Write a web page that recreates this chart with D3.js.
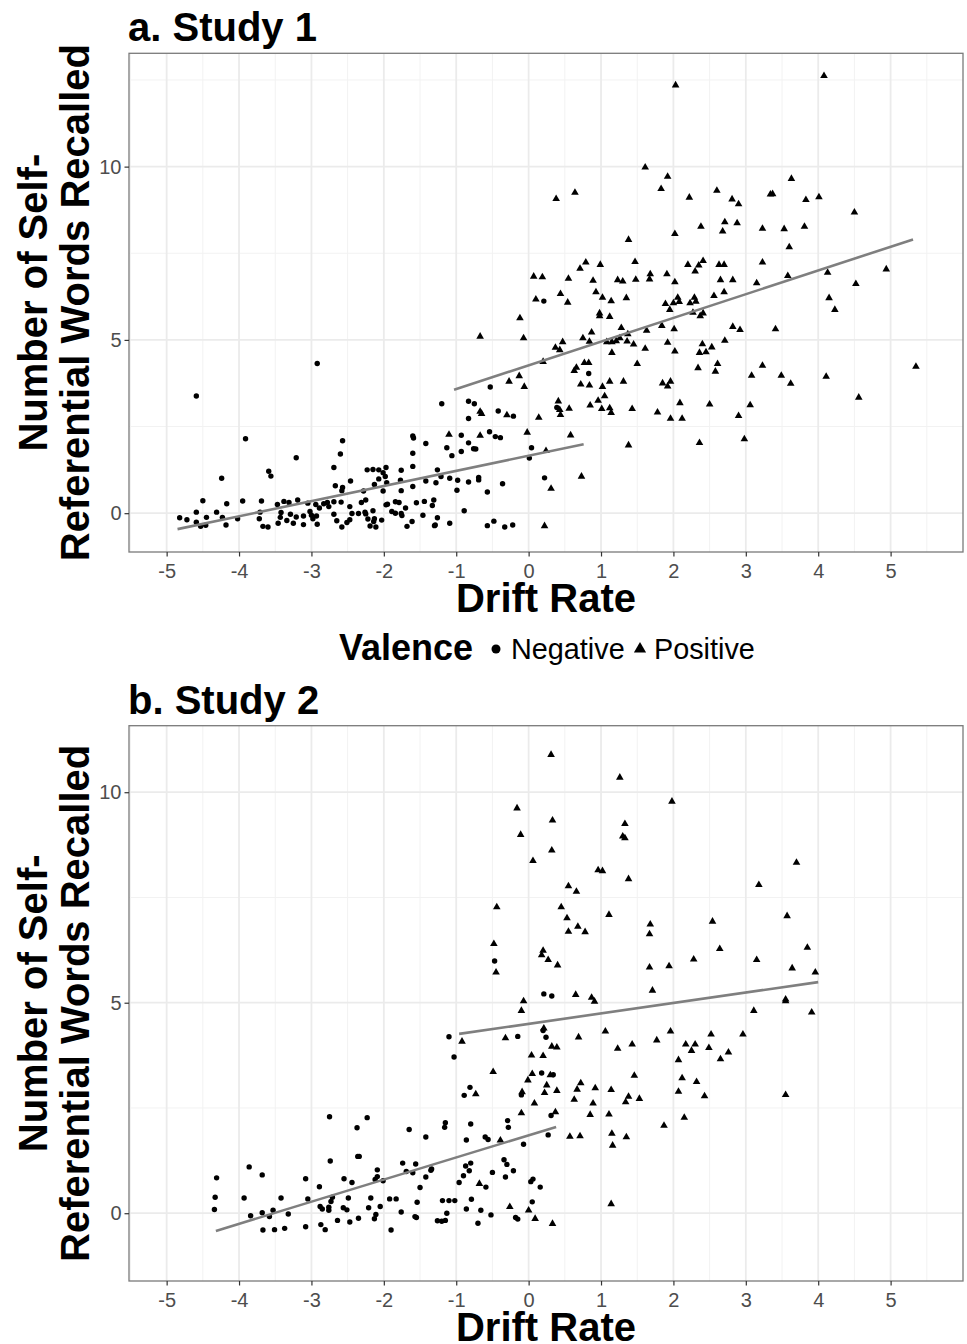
<!DOCTYPE html>
<html>
<head>
<meta charset="utf-8">
<script src="https://cdnjs.cloudflare.com/ajax/libs/d3/7.8.5/d3.min.js"></script>
<style>
  body { margin: 0; background: #fff; }
  svg { display: block; font-family: 'Liberation Sans', Arial, sans-serif; }
</style>
</head>
<body>
<svg id="chart" width="967" height="1344"></svg>
<script>
// Drift rate vs. self-referential words recalled, two studies

// Axis ticks
const xTicks = [-5, -4, -3, -2, -1, 0, 1, 2, 3, 4, 5]
const xMinor = [-5.5, -4.5, -3.5, -2.5, -1.5, -0.5, 0.5, 1.5, 2.5, 3.5, 4.5, 5.5]
const yTicks = [0, 5, 10]
const yMinorA = [2.5, 7.5, 12.5]
const yMinorB = [2.5, 7.5]

// Study 1, [drift rate, words recalled]
const study1Negative = [
  [-4.59, 3.38], [-2.92, 4.32], [-3.91, 2.15], [-4.24, 1.01], [-3.59, 1.21], [-3.56, 1.07], [-3.21, 1.60],
  [-2.57, 2.09], [-2.60, 1.71], [-2.69, 1.32], [-2.67, 0.79], [-2.57, 0.74], [-2.58, 0.65], [-2.46, 0.93],
  [-1.60, 2.23], [-1.59, 2.17], [-1.60, 1.73], [-1.60, 1.35], [-1.42, 2.01], [-1.20, 3.16], [-0.83, 3.23],
  [-0.75, 3.16], [-0.83, 2.73], [-0.53, 3.64], [-0.42, 2.95], [-0.21, 2.80], [-0.93, 2.25], [-0.83, 2.03],
  [-0.93, 1.78], [-0.76, 1.86], [-0.73, 1.85], [-1.13, 1.89], [-1.06, 1.66], [-0.54, 2.35], [-0.46, 2.21],
  [-0.39, 2.18], [0.04, 1.89], [0.01, 1.59], [-1.26, 1.25], [-1.21, 1.06], [-1.09, 1.01], [-0.98, 0.95],
  [-0.83, 0.90], [-0.69, 1.03], [-0.69, 0.96], [-0.57, 0.61], [-0.36, 0.85], [-0.99, 0.66], [-0.89, 0.07],
  [-0.57, -0.36], [-0.48, -0.23], [-0.33, -0.40], [-0.22, -0.34], [-1.09, -0.29], [-1.30, -0.36], [-1.29, -0.34],
  [-1.26, -0.13], [-1.46, -0.06], [-1.44, 0.34], [-1.55, 0.30], [-1.31, 0.38], [-1.33, 0.22], [-1.28, 0.88],
  [-1.42, 0.93], [-1.60, 0.77], [-1.76, 1.24], [-1.77, 0.95], [-1.76, 0.65], [-1.79, 0.31], [-1.84, 0.33],
  [-1.70, 0.15], [-1.76, -0.01], [-1.75, -0.07], [-1.61, -0.24], [-1.68, -0.38], [-1.84, 0.00], [-1.89, 0.05],
  [-1.95, 0.26], [-1.97, 0.24], [-2.03, -0.20], [-2.13, -0.16], [-2.14, -0.24], [-2.11, -0.40], [-2.19, -0.37],
  [-2.22, -0.17], [-2.15, 0.07], [-2.25, -0.02], [-2.26, 0.03], [-2.35, -0.01], [-2.31, 0.31], [-2.25, 0.38],
  [-2.28, 0.64], [-2.15, 1.26], [-2.23, 1.25], [-2.07, 1.25], [-2.07, 0.99], [-2.13, 0.83], [-2.01, 0.64],
  [-1.97, 1.32], [-2.01, 1.17], [-1.98, 1.06], [-1.96, 0.88], [-2.47, 0.19], [-2.44, -0.01], [-2.47, -0.19],
  [-2.51, -0.27], [-2.58, -0.40], [-2.65, -0.22], [-2.69, -0.03], [-2.59, 0.32], [-2.69, 0.33], [-2.78, 0.31],
  [-2.76, 0.19], [-2.83, 0.27], [-2.89, 0.15], [-2.94, 0.25], [-2.93, -0.08], [-2.92, -0.32], [-2.98, -0.16],
  [-3.00, -0.06], [-3.02, 0.05], [-3.05, 0.29], [-3.11, -0.08], [-3.11, -0.33], [-3.19, 0.38], [-3.21, -0.11],
  [-3.25, -0.29], [-3.29, -0.03], [-3.31, 0.31], [-3.34, -0.21], [-3.38, 0.34], [-3.42, 0.02], [-3.43, -0.12],
  [-3.46, -0.29], [-3.47, 0.25], [-3.60, -0.40], [-3.67, -0.38], [-3.69, 0.35], [-3.72, -0.16], [-3.71, 0.03],
  [-3.95, 0.35], [-4.02, -0.16], [-4.17, 0.27], [-4.18, -0.34], [-4.23, -0.12], [-4.31, 0.03], [-4.45, -0.12],
  [-4.46, -0.35], [-4.50, 0.36], [-4.53, -0.38], [-4.59, -0.26], [-4.59, 0.03], [-4.72, -0.19], [-4.82, -0.13],
  [0.83, 4.03], [0.39, 3.05], [0.22, 1.02], [0.21, 6.12]
]

const study1Positive = [
  [0.07, 6.83], [0.10, 6.17],
  [-0.12, 5.63], [-0.67, 5.10], [-0.07, 5.05], [-0.27, 3.80], [-0.13, 3.96], [-0.06, 3.65], [-0.67, 2.93],
  [-0.65, 2.87], [-0.30, 2.83], [0.14, 2.76], [-1.10, 2.27], [-0.67, 2.24], [-0.02, 2.33],
  [4.08, 12.62], [2.03, 12.35], [1.61, 9.98], [1.92, 9.71], [3.63, 9.65], [0.38, 9.07], [0.64, 9.25],
  [1.83, 9.36], [2.22, 9.11], [2.60, 9.31], [2.81, 9.06], [2.90, 8.92], [3.34, 9.20], [3.37, 9.21],
  [3.83, 9.04], [4.01, 9.12], [4.50, 8.68], [1.38, 7.89], [2.02, 8.06], [2.38, 8.27], [2.71, 8.40],
  [2.68, 8.13], [2.88, 8.37], [3.23, 8.21], [3.53, 8.20], [3.81, 8.27], [3.60, 7.68], [0.19, 6.81],
  [0.44, 6.33], [0.55, 6.77], [0.71, 7.06], [0.79, 7.24], [0.99, 7.17], [0.89, 6.71], [0.93, 6.38],
  [1.02, 6.22], [1.23, 6.73], [1.30, 6.69], [1.35, 6.21], [1.47, 7.25], [1.48, 6.74], [1.68, 6.90],
  [1.67, 6.75], [1.91, 6.90], [2.02, 6.67], [2.06, 6.22], [2.20, 7.17], [2.35, 7.15], [2.41, 7.28],
  [2.30, 6.98], [2.29, 6.22], [2.63, 7.17], [2.70, 7.17], [2.65, 6.73], [2.82, 6.73], [2.70, 6.38],
  [2.56, 6.27], [3.15, 6.64], [3.23, 7.24], [3.58, 6.85], [4.13, 6.94], [4.94, 7.04], [4.52, 6.62],
  [4.15, 6.21],
  [0.54, 6.08], [1.14, 6.12], [0.98, 5.77], [0.98, 5.69], [1.12, 5.67], [1.89, 6.04], [2.00, 6.06],
  [2.08, 6.10], [1.95, 5.87], [2.23, 6.06], [2.31, 6.11], [2.27, 5.79], [2.41, 5.77], [2.37, 5.69],
  [4.23, 5.87], [1.28, 5.35], [0.87, 5.22], [0.75, 5.05], [0.47, 4.94], [0.37, 4.78], [0.43, 4.71],
  [0.84, 4.95], [1.08, 4.94], [1.15, 4.94], [1.21, 4.97], [1.26, 5.05], [1.37, 5.17], [1.36, 4.96],
  [1.45, 4.87], [1.63, 5.27], [1.84, 5.41], [2.01, 5.31], [1.92, 4.92], [1.61, 4.75], [1.15, 4.63],
  [2.02, 4.67], [2.82, 5.38], [2.92, 5.29], [3.41, 5.31], [2.71, 4.98], [2.40, 4.88], [2.53, 4.79],
  [2.36, 4.63], [2.45, 4.65], [0.20, 4.37], [0.77, 4.34], [0.83, 4.34], [0.66, 4.20], [0.63, 4.11],
  [1.50, 4.31], [2.34, 4.19], [2.61, 4.31], [2.58, 4.09], [3.23, 4.26], [5.35, 4.23], [3.08, 3.97],
  [3.49, 3.97], [3.62, 3.74], [4.11, 3.94], [0.72, 3.72], [0.84, 3.69], [1.02, 3.65], [1.12, 3.80],
  [1.31, 3.80], [1.85, 3.75], [1.96, 3.80], [1.92, 3.66], [1.05, 3.38], [0.96, 3.25], [1.01, 3.01],
  [0.85, 3.11], [1.12, 3.03], [1.14, 2.90], [0.56, 3.02], [0.41, 3.23], [0.43, 2.98], [0.44, 2.84],
  [1.43, 3.01], [1.78, 2.91], [1.96, 2.73], [2.09, 3.18], [2.12, 2.73], [2.50, 3.14], [2.90, 2.81],
  [3.06, 3.12], [4.56, 3.34], [0.58, 2.25], [1.38, 1.96], [2.36, 2.03], [2.98, 2.14], [0.24, 1.80],
  [0.73, 1.06], [0.31, 0.71], [0.22, -0.37]
]

// Study 2, [drift rate, words recalled]
const study2Negative = [
  [-0.47, 5.99], [0.21, 5.21], [0.32, 5.16],
  [0.24, 4.18], [0.20, 4.34], [0.18, 3.33], [0.34, 3.29], [0.31, 2.32], [0.27, 1.86], [0.16, 0.62],
  [-1.10, 4.19], [-0.15, 4.20], [-1.03, 3.71], [-0.81, 2.99], [-0.89, 2.80], [-0.10, 2.81], [-0.80, 2.12],
  [-0.29, 2.20], [-0.28, 2.04], [-1.15, 2.15], [-1.16, 2.04], [-0.86, 1.74], [-0.60, 1.81], [-0.56, 1.75],
  [-0.07, 1.64], [-1.42, 1.81], [-1.65, 1.99], [-2.23, 2.27], [-2.37, 2.03], [-2.75, 2.29], [-2.74, 1.24],
  [-2.36, 1.35], [-2.34, 1.35], [-1.74, 1.19], [-1.56, 1.17], [-1.60, 0.96], [-1.69, 0.99], [-1.34, 1.05],
  [-1.35, 1.02], [-1.42, 0.86], [-0.87, 1.12], [-0.80, 1.19], [-0.82, 1.01], [-0.50, 0.97], [-0.34, 1.27],
  [-0.30, 1.16], [-0.21, 1.01], [-0.32, 0.86], [-0.96, 0.73], [-0.90, 0.89], [-0.59, 0.62], [-0.79, 0.33],
  [-0.86, 0.10], [-0.66, 0.07], [-0.52, -0.04], [-0.70, -0.24], [-0.18, -0.10], [-0.15, -0.14], [0.06, 0.81],
  [0.03, 0.75], [0.05, 0.27], [-1.02, 0.30], [-1.19, 0.30], [-1.10, 0.30], [-1.13, 0.00], [-1.15, -0.17],
  [-1.20, -0.19], [-1.26, -0.18], [-1.55, -0.10], [-1.57, -0.08], [-1.54, 0.26], [-1.50, 0.61], [-1.83, 0.34],
  [-1.92, 0.34], [-1.76, 0.03], [-1.90, -0.40], [-2.05, 0.16], [-2.11, -0.03], [-2.13, -0.13], [-2.18, 0.36],
  [-2.21, 0.13], [-2.09, 0.87], [-2.12, 0.80], [-2.01, 0.77], [-2.09, 1.03], [-2.44, 0.73], [-2.55, 0.82],
  [-2.49, 0.36], [-2.56, 0.13], [-2.51, 0.08], [-2.35, -0.12], [-2.47, -0.21], [-2.64, -0.17], [-2.81, -0.39],
  [-2.87, -0.27], [-2.76, 0.07], [-2.76, 0.14], [-2.73, 0.28], [-2.71, 0.38], [-2.85, 0.10], [-2.88, 0.16],
  [-2.89, 0.63], [-3.05, 0.34], [-3.08, 0.82], [-3.08, -0.32], [-3.32, -0.02], [-3.42, 0.36], [-3.37, -0.36],
  [-3.51, -0.39], [-3.53, 0.07], [-3.58, -0.08], [-3.68, 0.91], [-3.68, 0.01], [-3.67, -0.40], [-3.84, -0.06],
  [-3.86, 1.10], [-3.93, 0.36], [-4.31, 0.84], [-4.33, 0.38], [-4.34, 0.09]
]

const study2Positive = [
  [-0.16, 9.62], [-0.11, 8.99], [0.06, 8.37], [-0.44, 7.27], [-0.48, 6.40], [-0.45, 5.72],
  [0.31, 10.89], [1.26, 10.35], [1.98, 9.78], [0.33, 9.33], [1.33, 9.25], [1.30, 8.95], [1.33, 8.91],
  [0.32, 8.62], [3.70, 8.33], [0.96, 8.15], [1.02, 8.13], [1.38, 7.94], [3.18, 7.80], [0.55, 7.77],
  [0.66, 7.64], [0.45, 7.27], [0.53, 7.01], [1.11, 7.09], [0.68, 6.81], [0.55, 6.69], [0.78, 6.68],
  [1.68, 6.86], [1.67, 6.63], [2.54, 6.93], [3.57, 7.06], [2.64, 6.28], [3.85, 6.31], [0.20, 6.24],
  [0.18, 6.13], [0.27, 6.02], [0.40, 5.89], [2.28, 6.03], [3.15, 6.02], [1.67, 5.84], [1.94, 5.87],
  [3.64, 5.82], [3.96, 5.72], [1.71, 5.29], [0.65, 5.19], [0.87, 5.12], [3.55, 5.08],
  [0.91, 5.03], [3.55, 5.04], [3.11, 4.81], [3.91, 4.77], [0.21, 4.39], [0.69, 4.18], [1.06, 4.32],
  [1.96, 4.32], [2.52, 4.25], [2.96, 4.25], [1.77, 4.11], [0.32, 3.96], [0.39, 3.94], [1.23, 3.91],
  [1.43, 4.01], [2.17, 4.01], [2.30, 4.01], [2.49, 3.93], [2.25, 3.86], [2.76, 3.82], [0.20, 3.74],
  [2.07, 3.64], [2.65, 3.66], [1.46, 3.27], [2.12, 3.21], [0.30, 3.28], [0.72, 3.09], [2.32, 3.12],
  [0.25, 3.04], [0.67, 2.94], [0.92, 2.97], [1.14, 2.93], [0.22, 2.86], [0.39, 2.91], [1.38, 2.77],
  [1.34, 2.64], [1.53, 2.72], [2.07, 2.89], [2.43, 2.78], [3.55, 2.81], [0.63, 2.70], [0.89, 2.61],
  [0.37, 2.40], [0.85, 2.34], [1.11, 2.35], [2.15, 2.27], [1.87, 2.08], [0.57, 1.82], [0.71, 1.83],
  [1.15, 1.89], [1.35, 1.81], [1.16, 1.61], [1.14, 0.22], [0.33, -0.25],
  [-0.07, 5.04], [-0.10, 4.81], [-0.92, 4.08], [-0.32, 4.16], [0.04, 3.75], [-0.49, 3.36], [0.05, 3.31],
  [-0.01, 3.16], [-0.09, 2.88], [-0.73, 2.83], [0.08, 2.61], [-0.10, 2.38], [-0.39, 1.73], [-0.68, 0.70],
  [-0.26, 0.15], [0.00, 0.07], [0.09, -0.13]
]

// Linear fits per valence, endpoints
const fitNames = ['Negative', 'Positive']
const fit1X = [[-4.85, 0.76], [-1.03, 5.31]]
const fit1Y = [[-0.46, 1.99], [3.56, 7.90]]
const fit2X = [[-4.32, 0.38], [-0.96, 4.00]]
const fit2Y = [[-0.42, 2.05], [4.26, 5.49]]

const svg = d3.select('#chart')

const margin = { left: 129, right: 963 }

function drawPanel (p) {
  let g = svg.append('g')

  let x = d3.scaleLinear()
      .domain([-5.52, 6.0])
      .range([margin.left, margin.right])

  let y = d3.scaleLinear()
      .domain(p.yDomain)
      .range([p.bottom, p.top])

  // Grid
  let grid = g.append('g')
  grid.selectAll('.minor-x')
    .data(xMinor.filter(d => d > x.domain()[0]))
    .join('line')
      .attr('x1', d => x(d)).attr('x2', d => x(d))
      .attr('y1', p.top).attr('y2', p.bottom)
      .attr('stroke', '#f2f2f2')
      .attr('stroke-width', 1)
  grid.selectAll('.minor-y')
    .data(p.yMinor)
    .join('line')
      .attr('x1', margin.left).attr('x2', margin.right)
      .attr('y1', d => y(d)).attr('y2', d => y(d))
      .attr('stroke', '#f2f2f2')
      .attr('stroke-width', 1)
  grid.selectAll('.major-x')
    .data(xTicks)
    .join('line')
      .attr('x1', d => x(d)).attr('x2', d => x(d))
      .attr('y1', p.top).attr('y2', p.bottom)
      .attr('stroke', '#ebebeb')
      .attr('stroke-width', 1.8)
  grid.selectAll('.major-y')
    .data(yTicks)
    .join('line')
      .attr('x1', margin.left).attr('x2', margin.right)
      .attr('y1', d => y(d)).attr('y2', d => y(d))
      .attr('stroke', '#ebebeb')
      .attr('stroke-width', 1.8)

  // Points
  let circle = d3.symbol().type(d3.symbolCircle).size(23)
  let tri = d3.symbol().type(d3.symbolTriangle).size(25)

  g.append('g').selectAll('path')
    .data(p.negative)
    .join('path')
      .attr('d', circle)
      .attr('transform', d => 'translate(' + x(d[0]) + ',' + y(d[1]) + ')')
      .attr('fill', '#000')

  g.append('g').selectAll('path')
    .data(p.positive)
    .join('path')
      .attr('d', tri)
      .attr('transform', d => 'translate(' + x(d[0]) + ',' + y(d[1]) + ')')
      .attr('fill', '#000')

  // Fit lines
  let line = d3.line()
      .x(d => x(d[0]))
      .y(d => y(d[1]))

  g.append('g').selectAll('path')
    .data(fitNames.map((n, i) => [[p.fitX[i][0], p.fitY[i][0]], [p.fitX[i][1], p.fitY[i][1]]]))
    .join('path')
      .attr('d', line)
      .attr('fill', 'none')
      .attr('stroke', '#7f7f7f')
      .attr('stroke-width', 2.6)

  // Border
  g.append('rect')
    .attr('x', margin.left)
    .attr('y', p.top)
    .attr('width', margin.right - margin.left)
    .attr('height', p.bottom - p.top)
    .attr('fill', 'none')
    .attr('stroke', '#7a7a7a')
    .attr('stroke-width', 1.3)

  // Axes, plain hyphen for negatives
  let xAxis = d3.axisBottom(x)
      .tickValues(xTicks)
      .tickFormat(d => String(d))
      .tickSize(4.5)
      .tickPadding(7)
  let yAxis = d3.axisLeft(y)
      .tickValues(yTicks)
      .tickFormat(d => String(d))
      .tickSize(4.5)
      .tickPadding(3)

  for (let a of [
    g.append('g').attr('transform', 'translate(0,' + p.bottom + ')').call(xAxis),
    g.append('g').attr('transform', 'translate(' + margin.left + ',0)').call(yAxis)
  ]) {
    a.select('.domain').remove()
    a.selectAll('line').attr('stroke', '#333').attr('stroke-width', 1.2)
    a.selectAll('text')
      .attr('fill', '#4d4d4d')
      .style('font-size', '20px')
      .style('font-family', "'Liberation Sans', Arial, sans-serif")
  }

  // Titles
  g.append('text')
    .attr('x', 128)
    .attr('y', p.top - 12)
    .style('font-size', '40px')
    .style('font-weight', 'bold')
    .text(p.title)

  g.append('text')
    .attr('x', (margin.left + margin.right) / 2)
    .attr('y', p.bottom + 60)
    .attr('text-anchor', 'middle')
    .style('font-size', '40px')
    .style('font-weight', 'bold')
    .text('Drift Rate')

  let mid = (p.top + p.bottom) / 2
  let ytitle = ['Number of Self-', 'Referential Words Recalled']
  ytitle.forEach((t, i) => {
    g.append('text')
      .attr('transform', 'translate(' + (47 + i * 42) + ',' + mid + ') rotate(-90)')
      .attr('text-anchor', 'middle')
      .style('font-size', '40px')
      .style('font-weight', 'bold')
      .text(t)
  })
}

drawPanel({
  title: 'a. Study 1',
  top: 53.3,
  bottom: 552,
  yDomain: [-1.12, 13.27],
  yMinor: yMinorA,
  negative: study1Negative,
  positive: study1Positive,
  fitX: fit1X,
  fitY: fit1Y
})

drawPanel({
  title: 'b. Study 2',
  top: 725.7,
  bottom: 1281,
  yDomain: [-1.61, 11.58],
  yMinor: yMinorB,
  negative: study2Negative,
  positive: study2Positive,
  fitX: fit2X,
  fitY: fit2Y
})

// Legend
let legend = svg.append('g')

legend.append('text')
  .attr('x', 339)
  .attr('y', 660)
  .style('font-size', '36px')
  .style('font-weight', 'bold')
  .text('Valence')

let keys = [
  { label: fitNames[0], shape: d3.symbolCircle, kx: 496, tx: 511 },
  { label: fitNames[1], shape: d3.symbolTriangle, kx: 640, tx: 654 }
]

keys.forEach(k => {
  legend.append('path')
    .attr('d', d3.symbol().type(k.shape).size(64))
    .attr('transform', 'translate(' + k.kx + ',649)')
    .attr('fill', '#000')
  legend.append('text')
    .attr('x', k.tx)
    .attr('y', 659)
    .style('font-size', '28.8px')
    .text(k.label)
})
</script>
</body>
</html>
